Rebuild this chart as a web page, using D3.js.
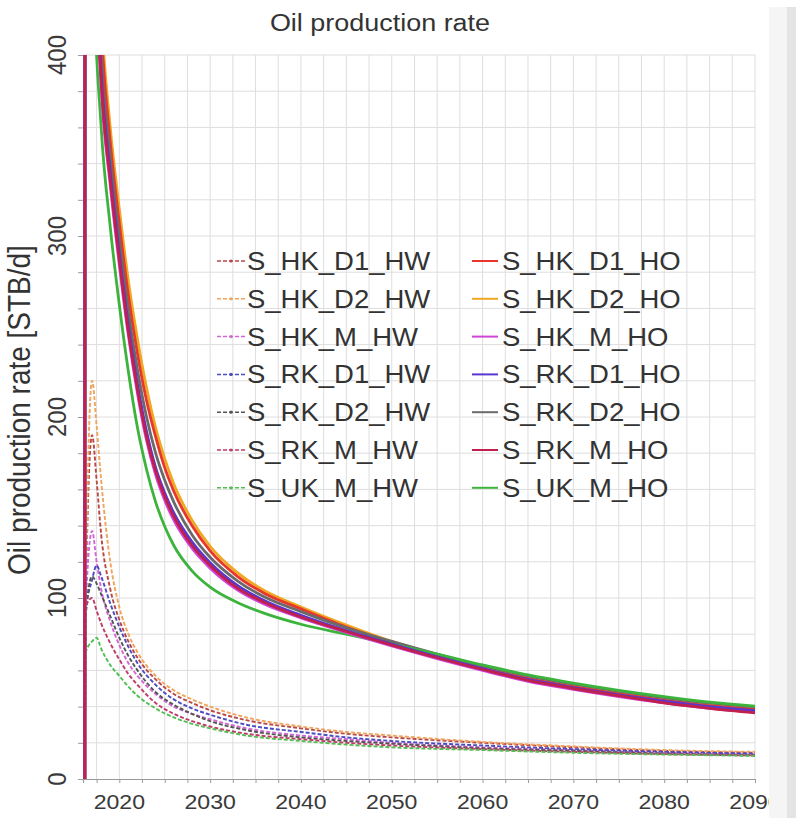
<!DOCTYPE html>
<html>
<head>
<meta charset="utf-8">
<script src="https://cdn.jsdelivr.net/npm/d3@7"></script>
<style>
  body { margin: 0; background: #fff; }
  svg { display: block; }
  text { font-family: "Liberation Sans", Arial, sans-serif; }
</style>
</head>
<body>
<svg id="chart" width="796" height="818"></svg>
<script>
// ---- data -------------------------------------------------------------
const chartTitle = "Oil production rate";
const yTitle = "Oil production rate [STB/d]";
const xTicks = [2020, 2030, 2040, 2050, 2060, 2070, 2080, 2090];
const yTicks = [0, 100, 200, 300, 400];

// horizontal-well cases (years shared by all HW series)
const hwYears = [2016.2, 2016.3, 2017, 2017.5, 2018, 2019, 2020, 2021, 2022, 2024, 2026, 2028, 2030, 2034, 2040, 2045, 2050, 2060, 2070, 2080, 2090];
const S_HK_D1_HW = [0, 100, 190, 165, 135, 105, 88, 76, 67, 55, 47, 42, 38, 32.5, 28, 25, 23, 20, 17.5, 15.5, 14.5];
const S_HK_D2_HW = [0, 100, 220, 195, 165, 120, 95, 80, 70, 57, 49, 44, 40, 34, 29, 26, 24, 20.5, 18, 16, 15];
const S_HK_M_HW  = [0, 95, 137, 120, 105, 87, 74, 64, 57, 47, 40, 36, 33, 28, 24, 22, 20, 17.5, 16, 14.5, 13.5];
const S_RK_D1_HW = [0, 92, 110, 118, 112, 97, 84, 73, 64, 52, 44, 39, 35.5, 30, 26, 23, 21, 18.5, 16.5, 15, 14];
const S_RK_D2_HW = [0, 90, 112, 108, 102, 90, 78, 68, 60, 48, 41, 36, 32, 27, 23, 21, 19.5, 17, 15.5, 14, 13];
const S_RK_M_HW  = [0, 95, 100, 93, 86, 75, 66, 58, 52, 42, 36, 32, 29, 25, 22, 20, 18.5, 16.5, 15, 13.8, 13];
const S_UK_M_HW  = [0, 70, 76, 78, 72, 63, 57, 51, 46, 39, 34, 30.5, 28, 24, 21, 19, 17.5, 16, 14.5, 13.5, 12.8];

// open-hole cases (years shared by all HO series)
const hoYears = [2016.2, 2016.3, 2017, 2018, 2019, 2020, 2021, 2022, 2023, 2024, 2025, 2026, 2028, 2030, 2033, 2036, 2040, 2045, 2050, 2055, 2060, 2065, 2070, 2075, 2080, 2085, 2090];
const S_HK_D1_HO = [0, 2500, 555, 415, 352, 307, 267, 235, 209, 189, 172, 159, 140, 126, 112, 102.5, 94, 84, 75.5, 68, 61, 55.5, 51, 47, 43.5, 40.5, 38.5];
const S_HK_D2_HO = [0, 2500, 570, 425, 360, 315, 275, 243, 216, 194, 177, 163, 143, 128.5, 114, 104, 95, 85, 76, 68.5, 61.5, 56, 51.5, 47.5, 44, 41, 39];
const S_HK_M_HO  = [0, 2500, 510, 382, 328, 284, 245, 213, 187, 168, 154, 143, 127.5, 116.5, 104.5, 96.5, 89, 81, 73.5, 66.5, 60, 54, 49.5, 45.5, 42, 39, 37];
const S_RK_D1_HO = [0, 2500, 520, 390, 335, 290, 250, 218, 192, 172, 158, 147, 131, 119.5, 107, 98.5, 90.5, 82, 74.5, 67.5, 61, 55, 50.5, 46.5, 43, 40, 37.8];
const S_RK_D2_HO = [0, 2500, 540, 400, 343, 298, 258, 226, 200, 180, 165, 153, 135, 122.5, 109.5, 100.5, 92.5, 83.5, 76, 69, 62.5, 57, 52.5, 48.5, 45, 42, 39.8];
const S_RK_M_HO  = [0, 2500, 515, 386, 331, 287, 247, 215, 189, 170, 156, 145, 129, 118, 105.5, 97.5, 89.5, 81.5, 74, 67, 60.5, 54.5, 50, 46, 42, 39, 36.5];
const S_UK_M_HO  = [0, 2500, 470, 360, 305, 262, 225, 194, 171, 153, 139.5, 129, 115, 106, 97.5, 91.5, 85.5, 80, 74.5, 69, 63, 57.5, 53, 49, 45.5, 42.5, 40.3];

const hwNames  = ["S_HK_D1_HW", "S_HK_D2_HW", "S_HK_M_HW", "S_RK_D1_HW", "S_RK_D2_HW", "S_RK_M_HW", "S_UK_M_HW"];
const hwColors = ["#b84848", "#f0a45c", "#d266d6", "#4c4cc0", "#555555", "#c03a68", "#52be52"];
const hoNames  = ["S_HK_D1_HO", "S_HK_D2_HO", "S_HK_M_HO", "S_RK_D1_HO", "S_RK_D2_HO", "S_RK_M_HO", "S_UK_M_HO"];
const hoColors = ["#e8362c", "#eea822", "#d044d8", "#5a36d0", "#6a6a6a", "#c0204e", "#3cb43c"];

const hwSeries = [S_HK_D1_HW, S_HK_D2_HW, S_HK_M_HW, S_RK_D1_HW, S_RK_D2_HW, S_RK_M_HW, S_UK_M_HW];
const hoSeries = [S_HK_D1_HO, S_HK_D2_HO, S_HK_M_HO, S_RK_D1_HO, S_RK_D2_HO, S_RK_M_HO, S_UK_M_HO];
// order in which the open-hole curves are stacked (last one on top)
const hoDrawOrder = [1, 0, 4, 6, 2, 3, 5];

// ---- layout -----------------------------------------------------------
const svg = d3.select("#chart");
const W = 796, H = 818;
const plot = { left: 83, right: 755, top: 55, bottom: 779 };
const SX = 1.1; // horizontal stretch applied to every text

const x = d3.scaleLinear().domain([2016, 2090]).range([plot.left, plot.right]);
const y = d3.scaleLinear().domain([0, 400]).range([plot.bottom, plot.top]);

svg.append("rect").attr("width", W).attr("height", H).attr("fill", "#fff");

function label(g, str, px, py, size, anchor, rot, color) {
  return g.append("text")
    .attr("transform", `translate(${px},${py}) scale(${SX},1)` + (rot ? ` rotate(${rot})` : ""))
    .attr("text-anchor", anchor)
    .attr("font-size", size)
    .attr("fill", color || "#333")
    .text(str);
}

// grid
const grid = svg.append("g").attr("stroke", "#dedede").attr("stroke-width", 1);
grid.selectAll("line.v").data(d3.range(2017.5, 2090.01, 2.5)).join("line")
  .attr("x1", d => x(d)).attr("x2", d => x(d))
  .attr("y1", plot.top).attr("y2", plot.bottom);
grid.selectAll("line.h").data(d3.range(20, 400.01, 20)).join("line")
  .attr("y1", d => y(d)).attr("y2", d => y(d))
  .attr("x1", plot.left).attr("x2", plot.right);

// axes
const xAxis = svg.append("g").attr("transform", `translate(0,${plot.bottom})`)
  .call(d3.axisBottom(x).tickValues(d3.range(2017.5, 2090.01, 2.5)).tickSize(4).tickFormat(""));
xAxis.selectAll("path,line").attr("stroke", "#9a9a9a");
const yAxis = svg.append("g").attr("transform", `translate(${plot.left},0)`)
  .call(d3.axisLeft(y).tickValues(d3.range(0, 400.01, 20)).tickSize(5).tickFormat(""));
yAxis.selectAll("path,line").attr("stroke", "#9a9a9a");

const labels = svg.append("g");
xTicks.forEach(t => label(labels, String(t), x(t), 809, 21, "middle", 0, "#3a3a3a"));
yTicks.forEach(t => label(labels, String(t), 66, y(t), 24, "middle", -90, "#3a3a3a"));

// curves
svg.append("clipPath").attr("id", "plotClip").append("rect")
  .attr("x", plot.left).attr("y", plot.top)
  .attr("width", plot.right - plot.left).attr("height", plot.bottom - plot.top);

const line = d3.line().x(d => x(d[0])).y(d => y(d[1])).curve(d3.curveMonotoneX);
const curves = svg.append("g").attr("clip-path", "url(#plotClip)").attr("fill", "none");

hwSeries.forEach((vals, i) => {
  curves.append("path")
    .attr("d", line(hwYears.map((yr, k) => [yr, vals[k]])))
    .attr("stroke", hwColors[i]).attr("stroke-width", 1.9)
    .attr("stroke-dasharray", "4,2");
});
hoDrawOrder.forEach(i => {
  curves.append("path")
    .attr("d", line(hoYears.map((yr, k) => [yr, hoSeries[i][k]])))
    .attr("stroke", hoColors[i]).attr("stroke-width", 2.8);
});

// legend
const legend = svg.append("g");
const rowY = d3.range(7).map(k => 261 + k * 37.8);
hwNames.forEach((n, i) => {
  const cy = rowY[i];
  legend.append("line").attr("x1", 217).attr("x2", 245).attr("y1", cy).attr("y2", cy)
    .attr("stroke", hwColors[i]).attr("stroke-width", 1.5).attr("stroke-dasharray", "4,2");
  legend.append("circle").attr("cx", 231).attr("cy", cy).attr("r", 1.6).attr("fill", hwColors[i]);
  label(legend, n, 247, cy + 9, 25, "start", 0, "#333");
});
hoNames.forEach((n, i) => {
  const cy = rowY[i];
  legend.append("line").attr("x1", 472).attr("x2", 498).attr("y1", cy).attr("y2", cy)
    .attr("stroke", hoColors[i]).attr("stroke-width", 2);
  label(legend, n, 502, cy + 9, 25, "start", 0, "#333");
});

// titles
label(svg, chartTitle, 380, 31, 24.5, "middle", 0, "#333");
label(svg, yTitle, 30, 410, 28, "middle", -90, "#333");

// side panel at the right edge
svg.append("rect").attr("x", 769).attr("y", 7).attr("width", 18).attr("height", H - 7).attr("fill", "#f5f5f5");
svg.append("rect").attr("x", 787).attr("y", 7).attr("width", 9).attr("height", H - 7).attr("fill", "#e4e4e4");
</script>
</body>
</html>
